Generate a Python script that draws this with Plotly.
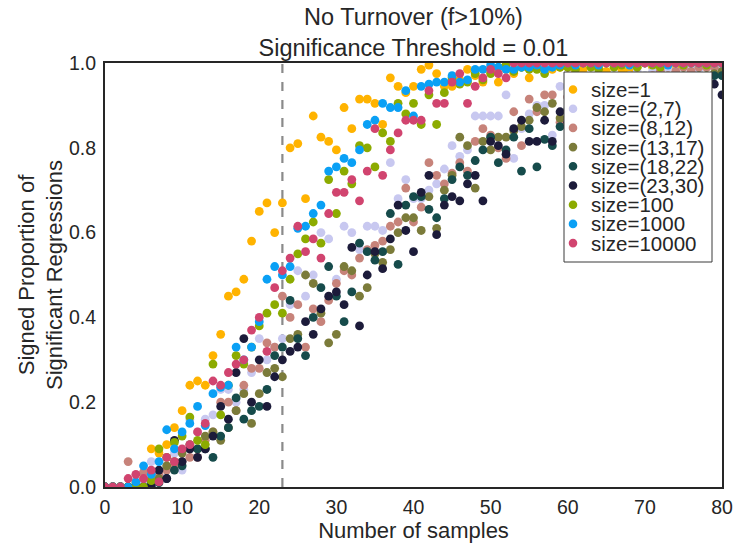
import plotly.graph_objects as go

# ---------------- data ----------------
n_samples = list(range(0, 81))
threshold_x = 23

series_names = ["size=1", "size=(2,7)", "size=(8,12)", "size=(13,17)", "size=(18,22)",
                "size=(23,30)", "size=100", "size=1000", "size=10000"]
series_colors = ["#FFB300", "#C8C8F0", "#C7837A", "#7B7B3A", "#164B4B",
                 "#1C1B3A", "#8CAB00", "#0AA0F5", "#D1446F"]

size_1 = [0, 0, 0, 0, 0.01, 0.02, 0.09, 0.08, 0.10, 0.14,
          0.18, 0.24, 0.25, 0.24, 0.31, 0.36, 0.45, 0.46, 0.49, 0.58,
          0.65, 0.67, 0.60, 0.67, 0.80, 0.81, 0.68, 0.875, 0.825, 0.815,
          0.795, 0.895, 0.845, 0.915, 0.915, 0.905, 0.855, 0.965, 0.945, 0.93,
          0.945, 0.985, 0.995, 0.975, 0.945, 0.945, 0.96, 0.985, 0.97, 0.955,
          0.98, 0.955, 0.985, 0.975, 0.99, 0.965, 0.99, 0.985, 0.985, 0.99,
          0.99, 0.98, 0.985, 1.0, 0.99, 0.98, 1.0, 0.985, 0.98, 0.99,
          1.0, 0.99, 0.985, 1.0, 0.99, 1.0, 0.985, 1.0, 0.99, 1.0, 1.0]
size_2_7 = [0, 0, 0, 0, 0.005, 0.01, 0.06, 0.03, 0.05, 0.08,
            0.04, 0.16, 0.13, 0.16, 0.17, 0.23, 0.23, 0.20, 0.23, 0.27,
            0.35, 0.30, 0.33, 0.35, 0.43, 0.51, 0.45, 0.50, 0.60, 0.585,
            0.49, 0.615, 0.60, 0.56, 0.615, 0.615, 0.605, 0.765, 0.68, 0.725,
            0.68, 0.68, 0.70, 0.715, 0.75, 0.805, 0.78, 0.795, 0.875, 0.875,
            0.875, 0.875, 0.925, 0.775, 0.845, 0.88, 0.90, 0.90, 0.83, 0.945,
            0.92, 0.93, 0.95, 0.94, 0.96, 0.95, 0.97, 0.96, 0.97, 0.98,
            0.97, 0.98, 0.98, 0.99, 0.98, 0.99, 0.99, 0.985, 0.99, 0.99, 0.99]
size_8_12 = [0, 0, 0, 0.06, 0.0, 0.035, 0.02, 0.03, 0.04, 0.05,
             0.06, 0.07, 0.07, 0.11, 0.13, 0.20, 0.20, 0.18, 0.24, 0.28,
             0.28, 0.34, 0.33, 0.45, 0.40, 0.43, 0.33, 0.42, 0.39, 0.44,
             0.48, 0.51, 0.50, 0.54, 0.56, 0.57, 0.58, 0.615, 0.625, 0.705,
             0.625, 0.66, 0.765, 0.735, 0.715, 0.74, 0.765, 0.745, 0.815, 0.845,
             0.83, 0.80, 0.775, 0.885, 0.805, 0.915, 0.885, 0.925, 0.925, 0.86,
             0.92, 0.93, 0.91, 0.94, 0.95, 0.93, 0.96, 0.95, 0.96, 0.97,
             0.96, 0.97, 0.98, 0.97, 0.98, 0.99, 0.98, 0.99, 0.99, 0.99, 1.0]
size_13_17 = [0, 0, 0, 0, 0, 0, 0.01, 0.02, 0.05, 0.06,
              0.08, 0.10, 0.09, 0.12, 0.13, 0.11, 0.14, 0.18, 0.22, 0.15,
              0.22, 0.27, 0.28, 0.26, 0.35, 0.36, 0.50, 0.48, 0.41, 0.34,
              0.36, 0.52, 0.51, 0.45, 0.47, 0.55, 0.53, 0.56, 0.60, 0.635,
              0.635, 0.605, 0.685, 0.61, 0.70, 0.735, 0.825, 0.805, 0.705, 0.815,
              0.795, 0.825, 0.825, 0.84, 0.85, 0.865, 0.895, 0.885, 0.905, 0.87,
              0.88, 0.90, 0.89, 0.91, 0.92, 0.90, 0.93, 0.92, 0.94, 0.95,
              0.93, 0.95, 0.96, 0.95, 0.96, 0.97, 0.96, 0.97, 0.97, 0.975, 0.98]
size_18_22 = [0, 0, 0, 0, 0, 0, 0.005, 0.01, 0.02, 0.04,
              0.05, 0.09, 0.09, 0.09, 0.07, 0.12, 0.14, 0.21, 0.16, 0.18,
              0.19, 0.23, 0.31, 0.33, 0.44, 0.35, 0.31, 0.40, 0.47, 0.52,
              0.45, 0.39, 0.46, 0.575, 0.555, 0.535, 0.555, 0.645, 0.525, 0.665,
              0.685, 0.685, 0.655, 0.635, 0.68, 0.725, 0.755, 0.735, 0.77, 0.795,
              0.825, 0.765, 0.795, 0.825, 0.745, 0.845, 0.755, 0.82, 0.805, 0.85,
              0.89, 0.86, 0.88, 0.87, 0.90, 0.89, 0.91, 0.90, 0.92, 0.91,
              0.93, 0.92, 0.94, 0.93, 0.95, 0.94, 0.96, 0.95, 0.96, 0.97, 0.97]
size_23_30 = [0, 0, 0, 0, 0, 0, 0, 0.04, 0.02, 0.11,
              0.06, 0.09, 0.07, 0.09, 0.12, 0.19, 0.16, 0.27, 0.35, 0.20,
              0.30, 0.19, 0.26, 0.30, 0.32, 0.33, 0.39, 0.36, 0.42, 0.45,
              0.46, 0.43, 0.565, 0.38, 0.50, 0.555, 0.515, 0.585, 0.665, 0.605,
              0.555, 0.695, 0.735, 0.595, 0.665, 0.685, 0.675, 0.715, 0.735, 0.675,
              0.815, 0.805, 0.785, 0.845, 0.865, 0.815, 0.815, 0.865, 0.815, 0.885,
              0.86, 0.88, 0.87, 0.89, 0.88, 0.90, 0.89, 0.91, 0.90, 0.92,
              0.91, 0.92, 0.93, 0.92, 0.94, 0.93, 0.94, 0.93, 0.945, 0.95, 0.925]
size_100 = [0, 0, 0, 0, 0, 0, 0.015, 0.09, 0.07, 0.105,
            0.12, 0.165, 0.11, 0.10, 0.29, 0.17, 0.24, 0.31, 0.29, 0.33,
            0.38, 0.41, 0.43, 0.41, 0.49, 0.55, 0.585, 0.625, 0.575, 0.725,
            0.645, 0.745, 0.715, 0.805, 0.80, 0.755, 0.835, 0.815, 0.905, 0.88,
            0.905, 0.855, 0.925, 0.855, 0.93, 0.965, 0.95, 0.955, 0.975, 0.96,
            0.975, 0.99, 0.995, 0.98, 0.99, 0.985, 0.985, 0.975, 1.0, 0.99,
            0.99, 0.985, 1.0, 0.99, 0.985, 1.0, 0.99, 0.995, 1.0, 0.99,
            1.0, 0.995, 0.99, 1.0, 1.0, 0.995, 1.0, 1.0, 0.995, 1.0, 1.0]
size_1000 = [0, 0, 0, 0, 0.012, 0.05, 0.03, 0.06, 0.135, 0.09,
             0.13, 0.15, 0.19, 0.145, 0.22, 0.235, 0.24, 0.33, 0.30, 0.33,
             0.39, 0.49, 0.52, 0.50, 0.52, 0.61, 0.615, 0.645, 0.665, 0.745,
             0.755, 0.775, 0.765, 0.795, 0.855, 0.865, 0.905, 0.895, 0.895, 0.935,
             0.875, 0.945, 0.95, 0.955, 0.955, 0.97, 0.955, 0.96, 0.985, 0.985,
             0.995, 0.99, 0.985, 0.985, 0.99, 0.99, 0.995, 0.985, 0.99, 0.995,
             1.0, 0.995, 1.0, 1.0, 0.995, 1.0, 1.0, 1.0, 0.995, 1.0,
             1.0, 1.0, 1.0, 0.995, 1.0, 1.0, 1.0, 1.0, 1.0, 1.0, 1.0]
size_10000 = [0, 0, 0, 0.02, 0.03, 0.02, 0.04, 0.012, 0.07, 0.06,
              0.09, 0.10, 0.13, 0.15, 0.25, 0.24, 0.27, 0.29, 0.30, 0.37,
              0.40, 0.32, 0.47, 0.51, 0.54, 0.615, 0.555, 0.585, 0.54, 0.645,
              0.695, 0.695, 0.725, 0.675, 0.745, 0.845, 0.735, 0.795, 0.835, 0.865,
              0.865, 0.865, 0.935, 0.905, 0.905, 0.955, 0.975, 0.905, 0.945, 0.965,
              0.985, 0.975, 0.965, 1.0, 1.0, 1.0, 1.0, 1.0, 1.0, 1.0,
              1.0, 1.0, 1.0, 1.0, 1.0, 1.0, 1.0, 1.0, 1.0, 1.0,
              1.0, 1.0, 1.0, 1.0, 1.0, 1.0, 1.0, 1.0, 1.0, 1.0, 1.0]

all_series = [size_1, size_2_7, size_8_12, size_13_17, size_18_22,
              size_23_30, size_100, size_1000, size_10000]

x_ticks = [0, 10, 20, 30, 40, 50, 60, 70, 80]
y_ticks = [0.0, 0.2, 0.4, 0.6, 0.8, 1.0]

# ---------------- layout constants ----------------
W, H = 737, 548
ML, MR, MT, MB = 105, 15, 63, 61
PW, PH = W - ML - MR, H - MT - MB
FONT = "Liberation Sans, Arial, sans-serif"
TXT = "#262626"

fig = go.Figure()
for name, color, vals in zip(series_names, series_colors, all_series):
    fig.add_trace(go.Scatter(
        x=n_samples, y=vals, mode="markers", name=name,
        marker=dict(color=color, size=8.8, line=dict(width=0)),
        showlegend=False,
    ))

# dashed threshold line
fig.add_shape(type="line", xref="x", yref="paper", x0=threshold_x, x1=threshold_x,
              y0=0, y1=1, layer="below",
              line=dict(color="#8a8a8a", width=2.2, dash="dash"))

# legend (drawn as layout items so its tight spacing matches the original)
def px_to_paper_x(px):
    return (px - ML) / PW

def px_to_paper_y(py):
    return (H - MB - py) / PH

leg_left, leg_right, leg_top, leg_bottom = 564, 712, 72, 262
row_h = 19.2
first_row = 89.5
fig.add_shape(type="rect", xref="paper", yref="paper",
              x0=px_to_paper_x(leg_left), x1=px_to_paper_x(leg_right),
              y0=px_to_paper_y(leg_bottom), y1=px_to_paper_y(leg_top),
              fillcolor="white", line=dict(color="#3a3a3a", width=1), layer="above")
for i, (name, color) in enumerate(zip(series_names, series_colors)):
    cy = px_to_paper_y(first_row + i * row_h)
    fig.add_shape(type="circle", xref="paper", yref="paper",
                  xsizemode="pixel", ysizemode="pixel",
                  xanchor=px_to_paper_x(573), yanchor=cy,
                  x0=-4.3, x1=4.3, y0=-4.3, y1=4.3,
                  fillcolor=color, line=dict(width=0), layer="above")
    fig.add_annotation(xref="paper", yref="paper", x=px_to_paper_x(589), y=cy,
                       text=name, showarrow=False, xanchor="left", yanchor="middle",
                       font=dict(family=FONT, size=20.5, color=TXT))

fig.update_layout(
    width=W, height=H,
    margin=dict(l=ML, r=MR, t=MT, b=MB),
    paper_bgcolor="white", plot_bgcolor="white",
    font=dict(family=FONT, color=TXT),
    title=dict(text="No Turnover (f>10%)<br>Significance Threshold = 0.01",
               x=0.5, xref="paper", xanchor="center",
               y=1 - 25 / H, yref="container", yanchor="top",
               font=dict(family=FONT, size=23.5, color=TXT)),
    showlegend=False,
)
fig.update_xaxes(range=[0, 80], tickvals=x_ticks, showgrid=False, zeroline=False,
                 showline=True, mirror=True, linecolor="#262626", linewidth=2,
                 automargin=False,
                 ticks="", ticklabelstandoff=2, tickfont=dict(family=FONT, size=19.5, color=TXT),
                 title=dict(text="Number of samples", font=dict(family=FONT, size=22, color=TXT),
                            standoff=3))
fig.update_yaxes(range=[0, 1], tickvals=y_ticks, tickformat=".1f", showgrid=False, zeroline=False,
                 showline=True, mirror=True, linecolor="#262626", linewidth=2,
                 automargin=False,
                 ticks="", ticklabelstandoff=3, tickfont=dict(family=FONT, size=19.5, color=TXT),
                 title=dict(text="Signed Proportion of<br>Significant Regressions",
                            font=dict(family=FONT, size=22, color=TXT), standoff=0))

fig.write_html("out.html")
